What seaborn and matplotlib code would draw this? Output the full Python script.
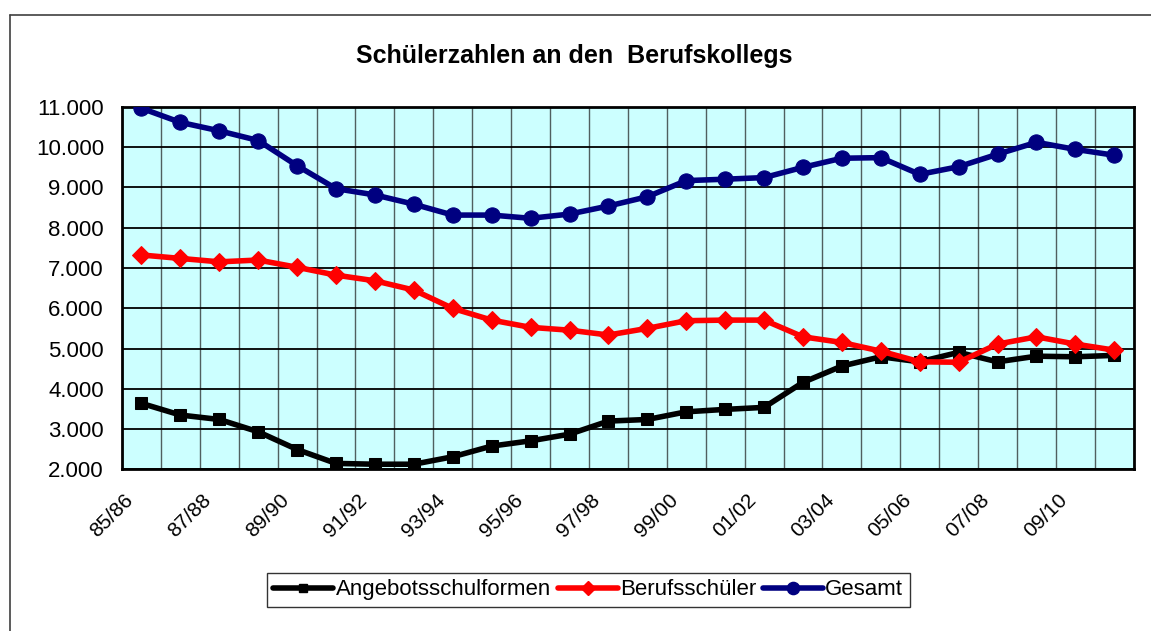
import numpy as np
import pandas as pd
import seaborn as sns
import matplotlib.pyplot as plt
from matplotlib.lines import Line2D
from matplotlib.ticker import FuncFormatter, MultipleLocator
import matplotlib.transforms as mtransforms

# school years 85/86 .. 10/11
years = ['85/86', '86/87', '87/88', '88/89', '89/90', '90/91', '91/92', '92/93',
         '93/94', '94/95', '95/96', '96/97', '97/98', '98/99', '99/00', '00/01',
         '01/02', '02/03', '03/04', '04/05', '05/06', '06/07', '07/08', '08/09',
         '09/10', '10/11']

angebot = [3640, 3350, 3240, 2935, 2495, 2150, 2130, 2130, 2315, 2580, 2710, 2875, 3200,
           3240, 3430, 3490, 3540, 4160, 4565, 4795, 4670, 4905, 4670, 4810, 4795, 4830]
berufsschueler = [7320, 7235, 7150, 7195, 7015, 6820, 6680, 6450, 5995, 5705, 5525, 5455, 5335,
                  5500, 5690, 5705, 5705, 5290, 5150, 4935, 4670, 4660, 5110, 5290, 5110, 4960]
gesamt = [10960, 10610, 10400, 10160, 9535, 8965, 8810, 8580, 8310, 8310, 8230, 8335, 8535,
          8765, 9165, 9200, 9240, 9495, 9720, 9735, 9320, 9510, 9820, 10115, 9940, 9795]

series = {
    'Angebotsschulformen': (angebot, 'black', 's', 8),
    'Berufsschüler': (berufsschueler, '#ff0000', 'D', 9),
    'Gesamt': (gesamt, '#000080', 'o', 11),
}

sns.set_style("white")
plt.rcParams['font.family'] = ['Liberation Sans', 'DejaVu Sans']
plt.rcParams['text.color'] = 'black'
plt.rcParams['xtick.labelcolor'] = 'black'
plt.rcParams['ytick.labelcolor'] = 'black'

fig = plt.figure(figsize=(11.51, 6.31), dpi=100)
ax = fig.add_axes([0.106, 0.256, 0.879, 0.575])
ax.set_facecolor('#ccffff')

pos = np.arange(len(years))
for name, (vals, color, marker, ms) in series.items():
    df = pd.DataFrame({'pos': pos, 'value': vals})
    sns.lineplot(data=df, x='pos', y='value', ax=ax, color=color, marker=marker,
                 markersize=ms, markeredgecolor=color, linewidth=4.0, label=name,
                 legend=False, zorder=3)

ax.set_xlim(-0.5, len(years) - 0.5)
ax.set_ylim(2000, 11000)
ax.yaxis.set_major_locator(MultipleLocator(1000))
ax.yaxis.set_major_formatter(FuncFormatter(lambda v, p: f'{v:,.0f}'.replace(',', '.')))

# labels every other year, tick marks / vertical grid on category borders
ax.set_xticks(pos[::2])
ax.set_xticklabels(years[::2], rotation=45, ha='right', va='center',
                   rotation_mode='anchor', fontsize=15, color='black')
ax.set_xticks(np.arange(-0.5, len(years) + 0.5, 1), minor=True)
ax.tick_params(axis='x', which='major', length=0, pad=20)
ax.tick_params(axis='x', which='minor', length=6, width=1, color='#606060', direction='out')
ax.tick_params(axis='y', length=6, width=1, color='#606060', direction='out', labelsize=16,
               pad=7, labelcolor='black')
offset = mtransforms.ScaledTranslation(-0.11, 0, fig.dpi_scale_trans)
for lab in ax.get_xticklabels():
    lab.set_transform(lab.get_transform() + offset)

ax.grid(axis='y', color='black', linewidth=1.3, zorder=1)
ax.grid(axis='x', which='minor', color='#506060', linewidth=1.0, zorder=1)
ax.set_axisbelow(True)
for sp in ax.spines.values():
    sp.set_color('black')
    sp.set_linewidth(2)
ax.set_xlabel('')
ax.set_ylabel('')

fig.text(0.499, 0.911, 'Schülerzahlen an den  Berufskollegs', ha='center', va='center',
         fontsize=18, fontweight='bold', color='black')

handles = [Line2D([], [], color=c, marker=m, markersize=ms * 0.8, linewidth=4.0)
           for (v, c, m, ms) in series.values()]
leg = fig.legend(handles, list(series.keys()), loc='center', bbox_to_anchor=(0.511, 0.065),
                 ncol=3, frameon=True, fancybox=False, fontsize=16, handlelength=2.7,
                 handletextpad=0.1, columnspacing=0.3, borderpad=0.3)
leg.get_frame().set_edgecolor('black')
leg.get_frame().set_linewidth(1)
for t in leg.get_texts():
    t.set_color('black')

# outer chart border (left and top)
fig.add_artist(Line2D([10 / 1151, 10 / 1151], [0, 1 - 15 / 631], transform=fig.transFigure,
                      color='#404040', linewidth=1.2))
fig.add_artist(Line2D([10 / 1151, 1], [1 - 15 / 631, 1 - 15 / 631], transform=fig.transFigure,
                      color='#404040', linewidth=1.2))

fig.savefig('out.png', dpi=100)
